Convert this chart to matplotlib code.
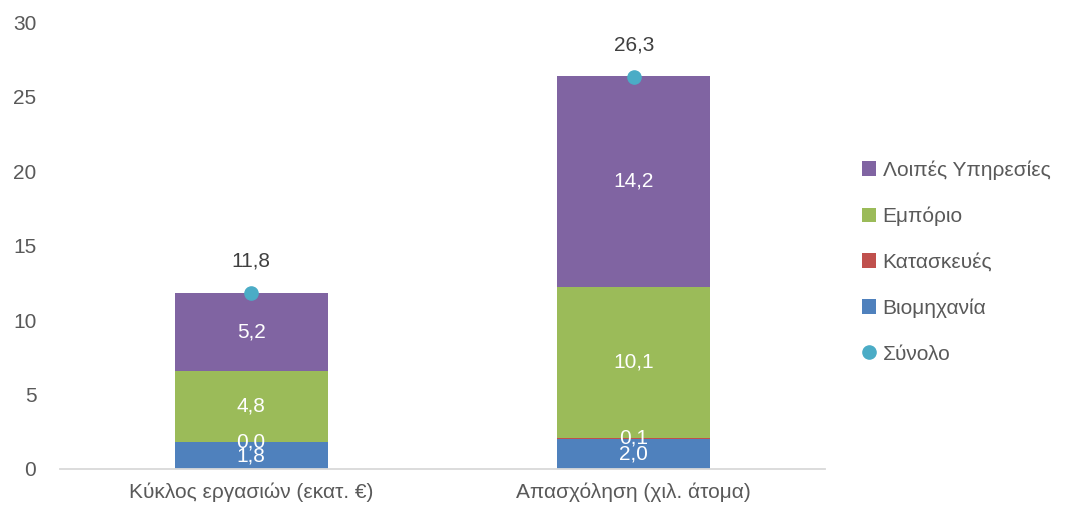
import matplotlib.pyplot as plt
import numpy as np

plt.rcParams['font.family'] = ['Liberation Sans', 'DejaVu Sans']

# data
categories = ['Κύκλος εργασιών (εκατ. €)', 'Απασχόληση (χιλ. άτομα)']
industry = [1.8, 2.0]
construction = [0.0, 0.1]
trade = [4.8, 10.1]
services = [5.2, 14.2]
total = [11.8, 26.3]

series = [('Βιομηχανία', industry, '#4F81BD'),
          ('Κατασκευές', construction, '#C0504D'),
          ('Εμπόριο', trade, '#9BBB59'),
          ('Λοιπές Υπηρεσίες', services, '#8064A2')]

def fmt(v):
    return f'{v:.1f}'.replace('.', ',')

fs = 15

fig = plt.figure(figsize=(10.7, 5.12), dpi=100)
ax = fig.add_axes([0.056, 0.084, 0.715, 0.873])

x = np.arange(len(categories))
bottom = np.zeros(len(categories))
handles = {}
for name, vals, col in series:
    bars = ax.bar(x, vals, 0.4, bottom=bottom, color=col, label=name)
    ax.bar_label(bars, labels=[fmt(v) for v in vals], label_type='center',
                 color='white', fontsize=fs)
    handles[name] = bars
    bottom += np.array(vals)

dots, = ax.plot(x, total, 'o', color='#4BACC6', ms=9.5, label='Σύνολο', zorder=5)
for xi, t in zip(x, total):
    ax.annotate(fmt(t), (xi, t), xytext=(0, 23), textcoords='offset points',
                ha='center', va='center', fontsize=fs, color='#404040')

ax.set_xlim(-0.5, 1.5)
ax.set_ylim(0, 30)
ax.set_yticks(range(0, 31, 5))
ax.set_xticks(x)
ax.set_xticklabels(categories)
ax.tick_params(length=0, labelsize=fs, colors='#595959')
ax.tick_params(axis='y', pad=17)
ax.tick_params(axis='x', pad=10)
for s in ['top', 'right', 'left']:
    ax.spines[s].set_visible(False)
ax.spines['bottom'].set_color('#D9D9D9')
ax.spines['bottom'].set_linewidth(1.3)

order = ['Λοιπές Υπηρεσίες', 'Εμπόριο', 'Κατασκευές', 'Βιομηχανία']
h = [handles[n] for n in order] + [dots]
fig.legend(h, order + ['Σύνολο'], loc='center left', bbox_to_anchor=(0.788, 0.488),
           frameon=False, fontsize=fs, labelcolor='#595959', handlelength=0.7,
           handleheight=0.7, handletextpad=0.3, labelspacing=1.28)

plt.savefig('out.png', dpi=100)
